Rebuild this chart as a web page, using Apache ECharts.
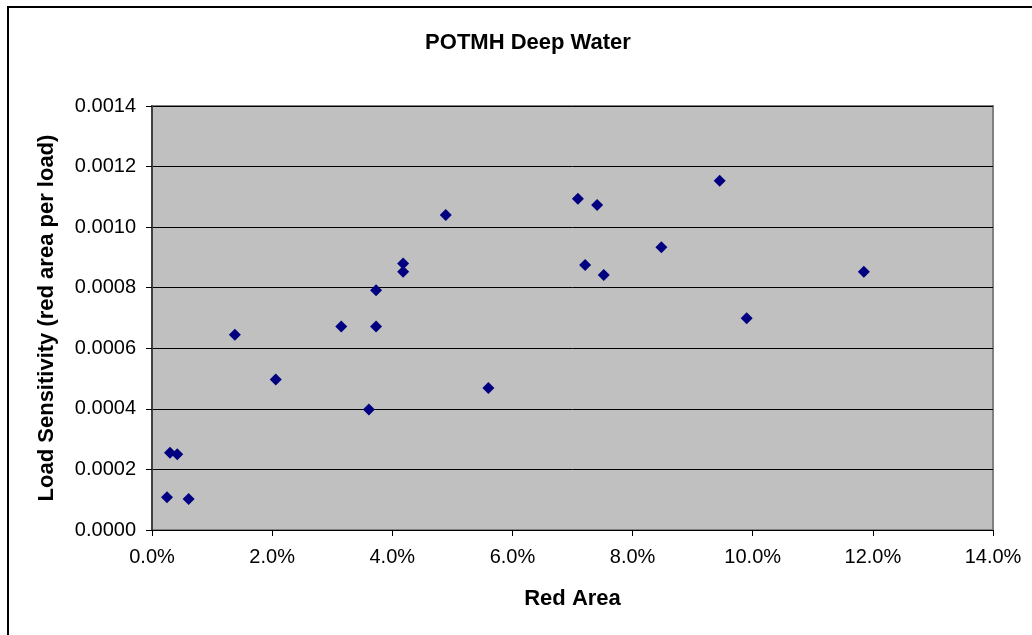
<!DOCTYPE html>
<html>
<head>
<meta charset="utf-8">
<script src="https://cdn.jsdelivr.net/npm/echarts@6/dist/echarts.min.js"></script>
<style>
    html, body { margin: 0; padding: 0; background: #fff; }
    #chart { width: 1032px; height: 635px; }
</style>
</head>
<body>
<div id="chart"></div>
<script>
    // red area (fraction) vs load sensitivity
    const redArea = [
        0.0025, 0.0030, 0.0042, 0.0061, 0.0138, 0.0206, 0.0315, 0.0361,
        0.0373, 0.0373, 0.0418, 0.0418, 0.0489, 0.0560, 0.0709, 0.0741,
        0.0721, 0.0752, 0.0848, 0.0945, 0.0990, 0.1185
    ];
    const loadSens = [
        0.000108, 0.000255, 0.000250, 0.000102, 0.000645, 0.000497, 0.000672, 0.000398,
        0.000672, 0.000792, 0.000853, 0.000880, 0.001040, 0.000469, 0.001094, 0.001073,
        0.000875, 0.000842, 0.000934, 0.001153, 0.000699, 0.000853
    ];
    const xTicks = { min: 0, max: 0.14, step: 0.02 };
    const yTicks = { min: 0, max: 0.0014, step: 0.0002 };

    const points = redArea.map((x, i) => [x, loadSens[i]]);

    const chart = echarts.init(document.getElementById('chart'));
    chart.setOption({
        animation: false,
        textStyle: { fontFamily: 'Liberation Sans, Arial, sans-serif' },
        title: {
            text: 'POTMH Deep Water',
            left: 523,
            top: 27,
            textAlign: 'center',
            textStyle: { fontSize: 22, fontWeight: 'bold', color: '#000' }
        },
        graphic: [{
            type: 'rect',
            shape: { x: 8, y: 7, width: 1100, height: 700 },
            style: { fill: 'none', stroke: '#000', lineWidth: 2 },
            silent: true
        }],
        grid: {
            left: 152, right: 39, top: 106, bottom: 105,
            show: true,
            backgroundColor: '#c0c0c0',
            borderColor: '#808080',
            borderWidth: 2
        },
        xAxis: {
            type: 'value',
            min: xTicks.min, max: xTicks.max, interval: xTicks.step,
            name: 'Red Area',
            nameLocation: 'middle',
            nameGap: 58,
            nameTextStyle: { fontSize: 22, fontWeight: 'bold', color: '#000' },
            axisLine: { show: true, lineStyle: { color: '#000', width: 1 } },
            axisTick: { show: true, length: 6, lineStyle: { color: '#000' } },
            axisLabel: {
                fontSize: 20, color: '#000', margin: 17,
                formatter: v => (v * 100).toFixed(1) + '%'
            },
            splitLine: { show: false }
        },
        yAxis: {
            type: 'value',
            min: yTicks.min, max: yTicks.max, interval: yTicks.step,
            name: 'Load Sensitivity (red area per load)',
            nameLocation: 'middle',
            nameGap: 94,
            nameTextStyle: { fontSize: 22, fontWeight: 'bold', color: '#000' },
            axisLine: { show: true, lineStyle: { color: '#404040', width: 2 } },
            axisTick: { show: true, length: 6, lineStyle: { color: '#000' } },
            axisLabel: {
                fontSize: 20, color: '#000', margin: 16,
                formatter: v => v.toFixed(4)
            },
            splitLine: { show: true, lineStyle: { color: '#000', width: 1 } }
        },
        series: [{
            type: 'scatter',
            data: points,
            symbol: 'path://M0,-1L1,0L0,1L-1,0Z',
            symbolSize: 12,
            itemStyle: { color: '#000080', opacity: 1 }
        }]
    });
</script>
</body>
</html>
